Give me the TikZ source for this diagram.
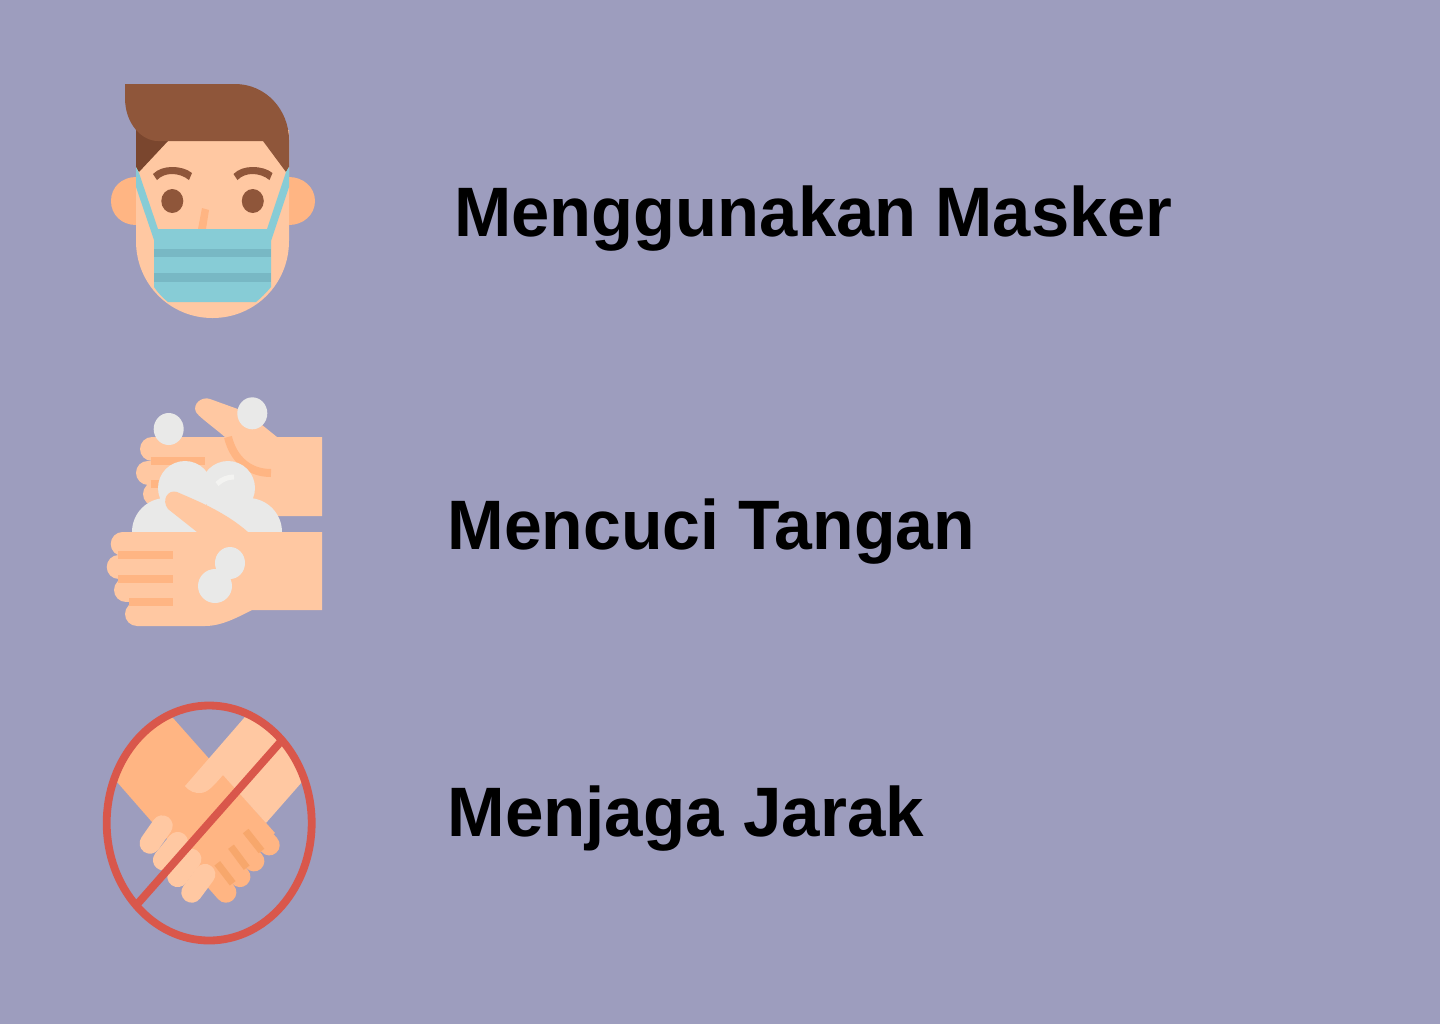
\documentclass[tikz,border=0pt]{standalone}
\usepackage{fontspec}
\setmainfont{Liberation Sans}
\usepackage{graphicx}
\usepackage{xcolor}
\usetikzlibrary{positioning}
\definecolor{PageBack}{HTML}{9D9DBE}
\definecolor{Skin}{HTML}{FFC8A2}
\definecolor{SkinDark}{HTML}{FFB583}
\definecolor{SkinMark}{HTML}{F7A76C}
\definecolor{Hair}{HTML}{8F563A}
\definecolor{HairDark}{HTML}{7A462E}
\definecolor{Mask}{HTML}{87CCD6}
\definecolor{MaskBand}{HTML}{78B8C4}
\definecolor{Soap}{HTML}{E9E9E8}
\definecolor{SoapLight}{HTML}{F3F3F1}
\definecolor{Forbid}{HTML}{D9574B}

\begin{document}
\begin{tikzpicture}[
    x=0.5pt, y=-0.5pt,
    caption/.style={anchor=base west, inner sep=0pt, font=\fontsize{35}{40}\selectfont\bfseries, text=black},
    washmark/.style={line width=4pt, draw=SkinDark},
    shakemark/.style={line width=3.6pt, draw=SkinMark},
    washfinger/.style={line cap=round, line width=12pt, draw=Skin},
    shakefinger/.style={line cap=round, line width=10.4pt},
    forbid/.style={draw=Forbid, line width=3.9pt}
]
\fill[PageBack] (0,0) rectangle (1440,1024);
\useasboundingbox (0,0) rectangle (1440,1024);

% Face with mask
\fill[SkinDark] (136,177) .. controls (122,177) and (111,187) .. (111,201) .. controls (111,215) and (122,225) .. (136,225) -- cycle;
\fill[SkinDark] (289,177) .. controls (303,177) and (315,187) .. (315,201) .. controls (315,215) and (303,225) .. (289,225) -- cycle;
\fill[Skin] (136,130) -- (136,241) .. controls (136,284) and (170,318) .. (212.5,318) .. controls (255,318) and (289,284) .. (289,241) -- (289,130) -- cycle;
\fill[HairDark] (136,125) -- (136,167) -- (139,172) -- (168,141) -- (168,125) -- cycle;
\fill[Hair] (125,84) -- (235,84) .. controls (266,84) and (289,110) .. (289,140) -- (289,167) -- (286,172) -- (263,141) -- (158,141) .. controls (142,141) and (125,124) .. (125,98) -- cycle;
% Brows, eyes, nose
\foreach \dx in {0,80.5} {
    \fill[Hair, xshift=\dx*0.5pt] (153,174) .. controls (158,169) and (165,167) .. (172,167) .. controls (180,167) and (187,169) .. (192,173) -- (189,180) .. controls (184,176) and (178,174) .. (172,174) .. controls (166,174) and (161,176) .. (157,180) -- cycle;
    \fill[Hair] (172.3+\dx,201) ellipse [x radius=11, y radius=12];
}
\fill[SkinDark] (202,208) -- (209,210) -- (206,229) -- (198,229) -- cycle;
\fill[Mask] (136,167) -- (139,173) -- (158,229) -- (267,229) -- (286,172) -- (289,167) -- (289,187) -- (271,241) -- (271,287) .. controls (266,293) and (261,298) .. (256,302) -- (168,302) .. controls (163,298) and (158,293) .. (154,287) -- (154,240) -- (136,187) -- cycle;
\foreach \ya/\yb in {249/257, 273/282} {
    \fill[MaskBand] (154,\ya) rectangle (271,\yb);
}

% Washing hands: back hand
\foreach \fy/\fx in {449/152, 472.5/148, 494/155} {
    \draw[washfinger] (\fx,\fy) -- (230,\fy);
}
\fill[Skin] (322,437) -- (277,437) -- (246,412) -- (210,399) .. controls (202,396) and (192,404) .. (196,412) .. controls (198,416) and (212,426) .. (225,437) -- (152,437) -- (152,461) -- (230,516) -- (322,516) -- cycle;
\draw[washmark] (150.7,461) -- (205,461);
\draw[washmark] (150.7,484) -- (165,484);
\draw[washmark] (228,437) .. controls (233,458) and (248,473) .. (271,473);
% Foam
\foreach \cx/\cy/\rr in {185/488/27, 228/488/27, 166/532/34, 248/532/34} {
    \fill[Soap] (\cx,\cy) ellipse [x radius=\rr, y radius=\rr];
}
\fill[Soap] (166,505) rectangle (248,540);
\draw[line width=2.5pt, SoapLight] (217,484) .. controls (222,479) and (228,477) .. (234,477);
% Front hand
\foreach \fy/\fx in {544/122.7, 567/118.7, 590/126, 614/137} {
    \draw[washfinger] (\fx,\fy) -- (200,\fy);
}
\fill[Skin] (322,532) -- (248,532) .. controls (225,512) and (200,502) .. (177,492) .. controls (168,489) and (161,500) .. (168,509) -- (197,532) -- (123,532) -- (123,556) -- (137,626) -- (205,626) .. controls (222,626) and (238,617) .. (252,610) -- (322,610) -- cycle;
\foreach \ya/\xa in {555/118, 579/118, 602/129} {
    \draw[washmark] (\xa,\ya) -- (172.7,\ya);
}
% Soap bubbles
\foreach \cx/\cy/\rx/\ry in {168.7/429/15/16, 252.3/413.3/15/16, 230/563/15/16, 215/586/17/17} {
    \fill[Soap] (\cx,\cy) ellipse [x radius=\rx, y radius=\ry];
}

% Handshake in forbidden sign
\begin{scope}
\clip (209.2,823) ellipse [x radius=102, y radius=117];
\fill[SkinDark] (173,718) -- (275,833) -- (210,887) -- (152,822) -- (117,782) -- (100,700) -- cycle;
\foreach \tx/\ty in {269.3/845, 254/861, 240/876.7, 226/892.3} {
    \draw[shakefinger, SkinDark] (\tx-30,\ty-34) -- (\tx,\ty);
}
\fill[Skin] (244,718) -- (185,786) .. controls (190,792) and (195,793) .. (200,793) .. controls (208,793) and (214,785) .. (223,775) -- (266,823) -- (302,782) -- (320,740) -- (270,690) -- cycle;
\end{scope}
\draw[shakemark] (245.7,831) -- (261.5,851);
\draw[shakemark] (231,846.7) -- (246.7,867.7);
\draw[shakemark] (217.3,863.3) -- (232.7,883.3);
\foreach \xa/\ya/\xb/\yb in {162.3/825.7/150/843.3, 177.7/842.3/163.3/860, 191/859/177.7/876.7, 205/874.3/191.7/892.3} {
    \draw[shakefinger, Skin] (\xa,\ya) -- (\xb,\yb);
}
\draw[forbid] (209.2,823) ellipse [x radius=102.5, y radius=117.5];
\draw[forbid] (280.7,741.7) -- (138.3,903);

% Captions
\node[caption] (mask) at (454,236) {\scalebox{0.982}[1]{Menggunakan Masker}};
\node[caption] (wash) at (447,549) {\scalebox{0.971}[1]{Mencuci Tangan}};
\node[caption] (distance) at (447,836) {\scalebox{0.988}[1]{Menjaga Jarak}};
\end{tikzpicture}
\end{document}
